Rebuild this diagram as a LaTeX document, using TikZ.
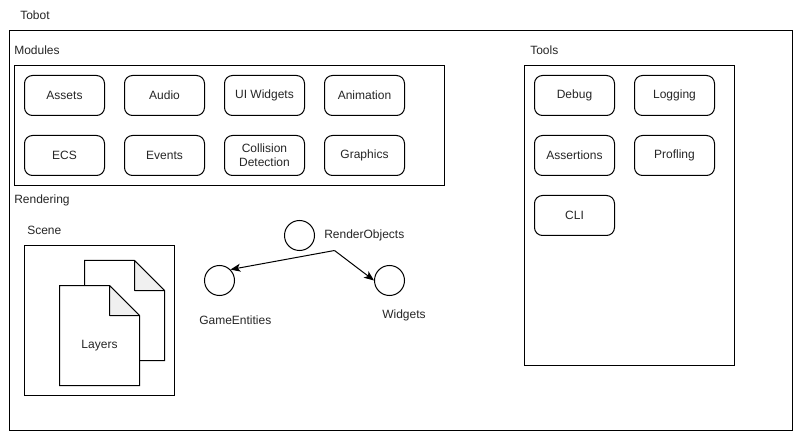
\documentclass[tikz,border=0pt]{standalone}
\usepackage{fontspec}
\setmainfont{Liberation Sans}
\usetikzlibrary{arrows.meta}
\tikzset{
  px/.style={x=0.75pt,y=-0.75pt},
  frame/.style={draw=black,line width=0.75pt,fill=none},
  mod/.style={draw=black,line width=0.75pt,rounded corners=6pt,minimum width=60pt,minimum height=30pt,inner sep=0pt,outer sep=0pt,align=center,font=\fontsize{9}{10.5}\selectfont,text=black!85,anchor=north west},
  lbl/.style={inner sep=0pt,anchor=west,font=\fontsize{9}{10.5}\selectfont,text=black!85},
  circ/.style={draw=black,line width=0.75pt,circle,minimum size=22.5pt,inner sep=0pt},
  conn/.style={draw=black,line width=0.75pt,-{Stealth[length=7.5pt,width=6pt,inset=2pt]}},
  fold/.style={draw=black,line width=0.75pt,fill=black!6,line join=round},
  page/.style={draw=black,line width=0.75pt,fill=white}
}
\begin{document}
\begin{tikzpicture}[px]
\useasboundingbox (0,0) rectangle (793,431);
\fill[white] (0,0) rectangle (793,431);
\draw[frame] (9.5,30.5) rectangle (792.5,430.5);
\draw[frame] (14.5,65.5) rectangle (444.5,185.5);
\draw[frame] (524.5,65.5) rectangle (734.5,365.5);
\draw[frame] (24.5,245.5) rectangle (174.5,395.5);
\node[lbl] (tobot) at (20,15) {Tobot};
\node[lbl] (modules) at (14,50) {Modules};
\node[lbl] (tools) at (530,50) {Tools};
\node[lbl] (rendering) at (14,200) {Rendering};
\node[lbl] (scene) at (27,230) {Scene};
\node[mod] (assets) at (24.5,75.5) {Assets};
\node[mod] (audio) at (124.5,75.5) {Audio};
\node[mod] (ui) at (224.5,75.5) {UI Widgets};
\node[mod] (anim) at (324.5,75.5) {Animation};
\node[mod] (ecs) at (24.5,135.5) {ECS};
\node[mod] (events) at (124.5,135.5) {Events};
\node[mod] (coll) at (224.5,135.5) {Collision\\Detection};
\node[mod] (gfx) at (324.5,135.5) {Graphics};
\node[mod] (debug) at (534.5,75.5) {Debug};
\node[mod] (logging) at (634.5,75.5) {Logging};
\node[mod] (assert) at (534.5,135.5) {Assertions};
\node[mod] (prof) at (634.5,135.5) {Profling};
\node[mod] (cli) at (534.5,195.5) {CLI};
% back page
\draw[page] (84.5,260.5) -- (134.5,260.5) -- (164.5,290.5) -- (164.5,360.5) -- (84.5,360.5) -- cycle;
\draw[fold] (134.5,260.5) -- (164.5,290.5) -- (134.5,290.5) -- cycle;
% front page
\draw[page] (59.5,285.5) -- (109.5,285.5) -- (139.5,315.5) -- (139.5,385.5) -- (59.5,385.5) -- cycle;
\draw[fold] (109.5,285.5) -- (139.5,315.5) -- (109.5,315.5) -- cycle;
\node[inner sep=0pt,font=\fontsize{9}{10.5}\selectfont,text=black!85] (layers) at (99.5,346) {Layers};
\node[circ] (ro) at (299.5,235.5) {};
\node[circ] (ge) at (219.5,280.5) {};
\node[circ] (wd) at (389.5,280.5) {};
\node[lbl] (rolbl) at (324,235) {RenderObjects};
\node[lbl] (gelbl) at (199,320.5) {GameEntities};
\node[lbl] (wdlbl) at (382,315.5) {Widgets};
\coordinate (split) at (334.5,250.5);
\draw[conn] (split) -- (ge.45);
\draw[conn] (split) -- (wd.west);
\end{tikzpicture}
\end{document}
